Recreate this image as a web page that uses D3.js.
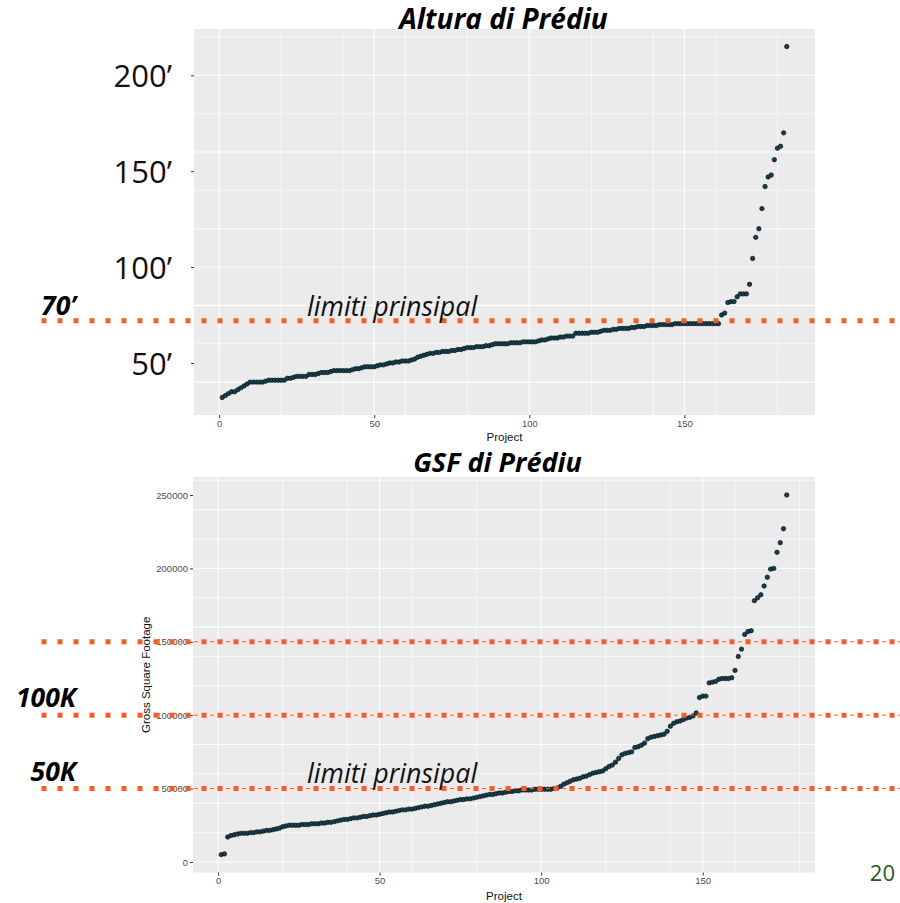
<!DOCTYPE html>
<html>
<head>
<meta charset="utf-8">
<script src="https://cdn.jsdelivr.net/npm/d3@7"></script>
<style>
  body { margin: 0; background: #fff; }
  svg { display: block; }
  .gg text { font-family: "Liberation Sans", Arial, sans-serif; }
  .slide-text { font-family: "Open Sans", sans-serif; }
</style>
</head>
<body>
<svg id="slide" width="900" height="903"></svg>
<script>
// building heights (feet), sorted, one per project
const heightValues = [
  32, 33, 34, 35, 35, 36, 37, 38, 39, 40,
  40, 40, 40, 40, 40.5, 41, 41, 41, 41, 41,
  41, 42, 42, 42.5, 43, 43, 43, 43, 44, 44,
  44, 44.5, 45, 45, 45, 45.5, 46, 46, 46, 46,
  46, 46, 46.5, 47, 47, 47.5, 48, 48, 48, 48,
  48.5, 49, 49, 49.5, 50, 50, 50.5, 50.5, 51, 51,
  51, 51.5, 52, 53, 53.5, 54, 54.5, 55, 55, 55.5,
  55.5, 56, 56, 56, 56.5, 56.5, 57, 57, 57.5, 58,
  58, 58, 58.5, 58.5, 58.5, 59, 59, 59.5, 60, 60,
  60, 60, 60, 60.5, 60.5, 60.5, 60.5, 61, 61, 61,
  61, 61, 61.5, 62, 62, 62.5, 63, 63, 63, 63.5,
  63.5, 64, 64, 64, 65.5, 65.5, 65.5, 65.5, 65.5, 66,
  66, 66, 66.5, 67, 67, 67, 67.5, 67.5, 68, 68,
  68, 68, 68.5, 68.5, 69, 69, 69, 69.5, 69.5, 69.5,
  69.5, 70, 70, 70, 70, 70, 70.5, 70.5, 70.5, 70.5,
  70.5, 70.5, 70.5, 70.5, 70.5, 70.5, 70.5, 70.5, 70.5, 70.5, 70.5,
  75, 76, 81.5, 82, 82, 84.5, 86, 86, 86, 91,
  104.5, 115.5, 120, 130.5, 142, 147, 148, 156, 162, 163,
  170, 215
];

// gross square footage, sorted, one per project
const gsfValues = [
  5000, 5500, 17000, 18000, 18500, 19000, 19500, 19500, 19500, 20000,
  20000, 20500, 20500, 21000, 21500, 21500, 22000, 22500, 23000, 24000,
  24500, 25000, 25000, 25000, 25000, 25500, 25500, 25500, 26000, 26000,
  26000, 26500, 26500, 27000, 27000, 27500, 28000, 28500, 29000, 29000,
  29500, 30000, 30000, 30500, 31000, 31000, 31500, 32000, 32000, 32500,
  33000, 33500, 34000, 34000, 34500, 35000, 35500, 35500, 36000, 36000,
  36500, 37000, 37500, 38000, 38000, 38500, 39000, 39500, 40000, 40500,
  41000, 41000, 41500, 42000, 42500, 42500, 43000, 43000, 43500, 44000,
  44500, 45000, 45500, 46000, 46000, 46500, 47000, 47000, 47500, 48000,
  48000, 48500, 48500, 49000, 49000, 49000, 49000, 49500, 49500, 49500,
  49500, 49500, 49500, 50000, 50500, 51500, 53000, 54000, 55000, 56000,
  56500, 57000, 58000, 58500, 59500, 60500, 61000, 61500, 62000, 63500,
  65000, 66000, 68000, 70500, 73000, 74000, 74500, 75000, 78000, 78500,
  79500, 81000, 84000, 85000, 85500, 86000, 86500, 87000, 89000, 92500,
  94500, 95500, 96000, 97000, 98000, 98500, 99500, 101500, 112000, 113000,
  113000, 122000, 122500, 123000, 124500, 125000, 125000, 125000, 125500, 130500,
  140000, 145000, 155000, 157000, 157500, 178000, 180000, 182000, 188000, 194000,
  199500, 200000, 211000, 217500, 227000, 250000
];

const projectTicks = [0, 50, 100, 150];
const heightTicks = [50, 100, 150, 200];
const heightTickLabels = ["50’", "100’", "150’", "200’"];
const gsfTicks = [0, 50000, 100000, 150000, 200000, 250000];

const heightLimit = 72;            // slide overlay line (70' limit)
const heightLimitLabel = "70’";
const gsfLimits = [150000, 100000, 50000];
const gsfLimitLabels = ["", "100K", "50K"];

const ORANGE = "#FF5A24";
const svg = d3.select("#slide");

function expand(ext) {
  const pad = (ext[1] - ext[0]) * 0.05;
  return [ext[0] - pad, ext[1] + pad];
}

function drawPlot(values, box) {
  const g = svg.append("g").attr("class", "gg");
  const x = d3.scaleLinear().domain(expand([1, values.length])).range([box.left, box.right]);
  const y = d3.scaleLinear().domain(expand(d3.extent(values))).range([box.bottom, box.top]);

  g.append("rect")
    .attr("x", box.left).attr("y", box.top)
    .attr("width", box.right - box.left).attr("height", box.bottom - box.top)
    .attr("fill", "#EBEBEB");

  const xMajor = x.ticks(4), xAll = x.ticks(8);
  const yAll = y.ticks(10), yStep = yAll[1] - yAll[0];
  const yMinor = yAll.filter(d => Math.round(d / yStep) % 2 === 1);
  const yMajor = yAll.filter(d => Math.round(d / yStep) % 2 === 0);

  // minor grid
  g.selectAll(".vminor").data(xAll.filter(d => xMajor.indexOf(d) < 0)).enter()
    .append("line")
    .attr("x1", d => x(d)).attr("x2", d => x(d))
    .attr("y1", box.top).attr("y2", box.bottom)
    .attr("stroke", "#fff").attr("stroke-width", 0.6);
  g.selectAll(".hminor").data(yMinor).enter()
    .append("line")
    .attr("x1", box.left).attr("x2", box.right)
    .attr("y1", d => y(d)).attr("y2", d => y(d))
    .attr("stroke", "#fff").attr("stroke-width", 0.6);
  // major grid
  g.selectAll(".vmajor").data(xMajor).enter()
    .append("line")
    .attr("x1", d => x(d)).attr("x2", d => x(d))
    .attr("y1", box.top).attr("y2", box.bottom)
    .attr("stroke", "#fff").attr("stroke-width", 1.1);
  g.selectAll(".hmajor").data(yMajor).enter()
    .append("line")
    .attr("x1", box.left).attr("x2", box.right)
    .attr("y1", d => y(d)).attr("y2", d => y(d))
    .attr("stroke", "#fff").attr("stroke-width", 1.1);

  // x axis
  const xAxis = g.append("g")
    .attr("transform", "translate(0," + box.bottom + ")")
    .call(d3.axisBottom(x).tickValues(projectTicks).tickSize(3).tickPadding(2));
  xAxis.select(".domain").remove();
  xAxis.selectAll("line").attr("stroke", "#333");
  xAxis.selectAll("text").attr("fill", "#4D4D4D").style("font-size", "9.5px");

  g.append("text")
    .attr("x", (box.left + box.right) / 2)
    .attr("y", box.bottom + box.titleGap)
    .attr("text-anchor", "middle")
    .style("font-size", "11.5px")
    .attr("fill", "#111")
    .text("Project");

  // points
  g.selectAll("circle").data(values).enter()
    .append("circle")
    .attr("cx", (d, i) => x(i + 1))
    .attr("cy", d => y(d))
    .attr("r", 2.2)
    .attr("fill", "#173F4E")
    .attr("stroke", "#04121a")
    .attr("stroke-width", 0.7);

  return { g: g, x: x, y: y };
}

/*
 * top plot: building height
 */
const heightPlot = drawPlot(heightValues, { left: 194, right: 815, top: 29, bottom: 415, titleGap: 26 });
const heightAxis = heightPlot.g.append("g")
  .attr("transform", "translate(194,0)")
  .call(d3.axisLeft(heightPlot.y).tickValues(heightTicks)
    .tickFormat((d, i) => heightTickLabels[i]).tickSize(3).tickPadding(19));
heightAxis.select(".domain").remove();
heightAxis.selectAll("line").attr("stroke", "#333");
heightAxis.selectAll("text")
  .attr("dy", "0.36em")
  .attr("fill", "#111")
  .style("font-family", "'Open Sans', sans-serif")
  .style("font-size", "31px");

/*
 * bottom plot: gross square footage
 */
const gsfPlot = drawPlot(gsfValues, { left: 193, right: 815, top: 477, bottom: 872.6, titleGap: 27.5 });
const gsfAxis = gsfPlot.g.append("g")
  .attr("transform", "translate(193,0)")
  .call(d3.axisLeft(gsfPlot.y).tickValues(gsfTicks).tickFormat(d3.format("d")).tickSize(3).tickPadding(2));
gsfAxis.select(".domain").remove();
gsfAxis.selectAll("line").attr("stroke", "#333");
gsfAxis.selectAll("text").attr("fill", "#4D4D4D").style("font-size", "9.5px");

gsfPlot.g.append("text")
  .attr("transform", "translate(150," + ((477 + 872.6) / 2) + ") rotate(-90)")
  .attr("text-anchor", "middle")
  .style("font-size", "11.5px")
  .attr("fill", "#111")
  .text("Gross Square Footage");

// thin dashed reference lines from the plot itself
svg.selectAll(".thin").data(gsfLimits).enter()
  .append("line")
  .attr("x1", 170).attr("x2", 900)
  .attr("y1", d => gsfPlot.y(d)).attr("y2", d => gsfPlot.y(d))
  .attr("stroke", ORANGE).attr("stroke-width", 1)
  .attr("stroke-dasharray", "4,4");

/*
 * slide overlays: dotted limit lines and labels
 */
function dotted(yPos) {
  svg.append("line")
    .attr("x1", 41.5).attr("x2", 900)
    .attr("y1", yPos).attr("y2", yPos)
    .attr("stroke", ORANGE).attr("stroke-width", 5)
    .attr("stroke-dasharray", "5,11");
}

dotted(heightPlot.y(heightLimit));
gsfLimits.forEach(v => dotted(gsfPlot.y(v)));

const slideText = svg.append("g").attr("class", "slide-text");

slideText.append("text")
  .attr("x", 76).attr("y", heightPlot.y(heightLimit) - 6)
  .attr("text-anchor", "end")
  .style("font-size", "26.5px").style("font-weight", "bold").style("font-style", "italic")
  .attr("fill", "#000")
  .text(heightLimitLabel);

slideText.selectAll(".klabel").data(gsfLimits).enter()
  .append("text")
  .attr("x", 76).attr("y", d => gsfPlot.y(d) - 8)
  .attr("text-anchor", "end")
  .style("font-size", "26.5px").style("font-weight", "bold").style("font-style", "italic")
  .attr("fill", "#000")
  .text((d, i) => gsfLimitLabels[i]);

slideText.append("text")
  .attr("x", 307).attr("y", 316)
  .style("font-size", "26.8px").style("font-style", "italic")
  .attr("fill", "#111")
  .text("limiti prinsipal");

slideText.append("text")
  .attr("x", 307).attr("y", 782.5)
  .style("font-size", "26.8px").style("font-style", "italic")
  .attr("fill", "#111")
  .text("limiti prinsipal");

slideText.append("text")
  .attr("x", 503.5).attr("y", 29)
  .attr("text-anchor", "middle")
  .style("font-size", "28px").style("font-weight", "bold").style("font-style", "italic")
  .attr("fill", "#000")
  .text("Altura di Prédiu");

slideText.append("text")
  .attr("x", 497.5).attr("y", 472)
  .attr("text-anchor", "middle")
  .style("font-size", "27px").style("font-weight", "bold").style("font-style", "italic")
  .attr("fill", "#000")
  .text("GSF di Prédiu");

slideText.append("text")
  .attr("x", 895).attr("y", 881)
  .attr("text-anchor", "end")
  .style("font-size", "22px")
  .attr("fill", "#1E5A1A")
  .text("20");
</script>
</body>
</html>
